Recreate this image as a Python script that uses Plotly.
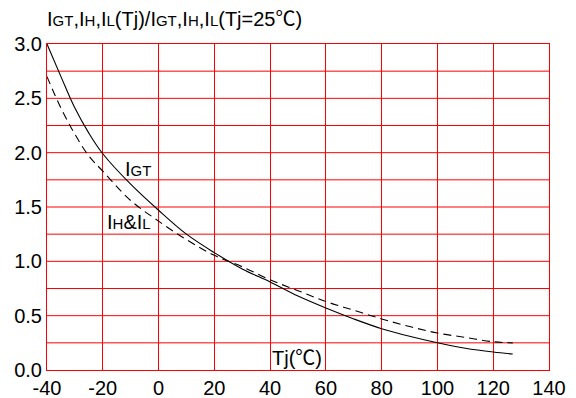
import plotly.graph_objects as go

# IGT (solid) normalized curve
igt_t = [-40, -35, -30, -25, -20, -10, 0, 10, 20, 30, 40, 50, 60, 70, 80, 90, 100, 110, 120, 127]
igt_v = [3.0, 2.70, 2.41, 2.18, 1.99, 1.71, 1.47, 1.25, 1.08, 0.93, 0.81, 0.68, 0.57, 0.47, 0.38, 0.31, 0.25, 0.20, 0.165, 0.147]

# IH & IL (dashed) normalized curve
ihl_t = [-40, -35, -30, -25, -20, -10, 0, 10, 20, 30, 40, 50, 60, 70, 80, 90, 100, 110, 120, 127]
ihl_v = [2.70, 2.41, 2.17, 1.97, 1.83, 1.56, 1.37, 1.20, 1.055, 0.95, 0.83, 0.73, 0.63, 0.55, 0.47, 0.40, 0.34, 0.30, 0.26, 0.25]

x_ticks = [-40, -20, 0, 20, 40, 60, 80, 100, 120, 140]
y_ticks = [0.0, 0.5, 1.0, 1.5, 2.0, 2.5, 3.0]

FONT = "Liberation Sans, Arial, sans-serif"

def small(s):
    return '<span style="font-size:15px">' + s + '</span>'

DEG = '<span style="font-family:Noto Sans CJK SC">℃</span>'

fig = go.Figure()
fig.add_trace(go.Scatter(x=igt_t, y=igt_v, mode="lines",
                         line=dict(color="black", width=1.1, shape="spline", smoothing=1.0),
                         showlegend=False))
fig.add_trace(go.Scatter(x=ihl_t, y=ihl_v, mode="lines",
                         line=dict(color="black", width=1.1, dash="8px,5px", shape="spline", smoothing=1.0),
                         showlegend=False))

fig.update_xaxes(range=[-40, 140], tickvals=x_ticks, ticktext=[str(v) for v in x_ticks],
                 showgrid=True, gridcolor="#ff0000", gridwidth=1, automargin=False,
                 showline=True, linecolor="#ff0000", linewidth=1, mirror=True,
                 zeroline=False, ticks="", tickfont=dict(size=20, color="black", family=FONT))
fig.update_yaxes(range=[0, 3.0], tickvals=y_ticks, ticktext=["%.1f" % v for v in y_ticks],
                 showgrid=False, automargin=False,
                 showline=True, linecolor="#ff0000", linewidth=1, mirror=True,
                 zeroline=False, ticks="", tickfont=dict(size=20, color="black", family=FONT))

# horizontal grid every 0.25
for i in range(1, 12):
    fig.add_hline(y=i * 0.25, line=dict(color="#ff0000", width=1), layer="below")

anns = [
    dict(x=-40, y=1.0, xref="x", yref="paper", xanchor="left", yanchor="middle", yshift=27, xshift=-2,
         text="I" + small("GT") + ",I" + small("H") + ",I" + small("L") + "(Tj)/I" + small("GT") + ",I"
              + small("H") + ",I" + small("L") + "(Tj=25" + DEG + ")"),
    dict(x=-7.5, y=1.85, text="I" + small("GT")),
    dict(x=-10.6, y=1.36, text="I" + small("H") + "&I" + small("L")),
    dict(x=49.5, y=0.12, text="Tj(" + DEG + ")"),
]
for a in anns:
    base = dict(showarrow=False, font=dict(size=20, color="black", family=FONT))
    if "xref" not in a:
        base.update(xref="x", yref="y")
    base.update(a)
    fig.add_annotation(**base)

fig.update_layout(width=576, height=398, margin=dict(l=47, r=27, t=44, b=28),
                  plot_bgcolor="white", paper_bgcolor="white",
                  font=dict(family=FONT, color="black"))

fig.write_html("out.html")
